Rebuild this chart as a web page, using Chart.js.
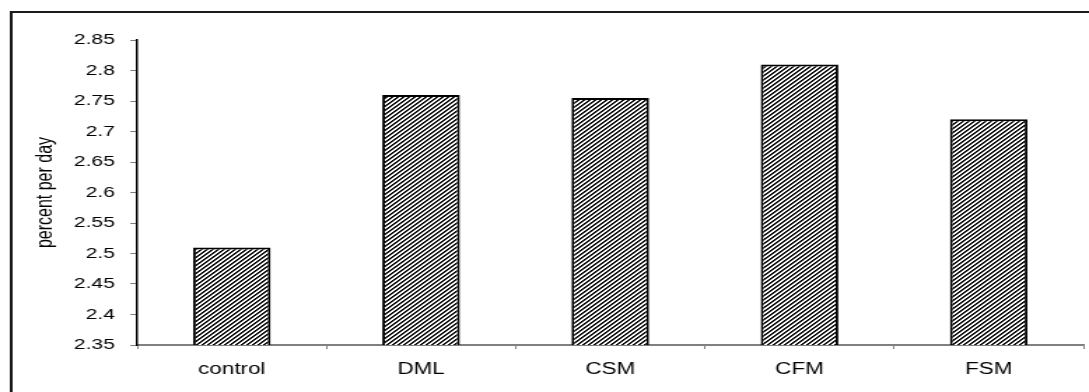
<!DOCTYPE html>
<html lang="en">
<head>
    <meta charset="UTF-8">
    <title>percent per day</title>
    <script src="https://cdn.jsdelivr.net/npm/chart.js"></script>
    <style>
        html, body { margin: 0; padding: 0; background: #fff; overflow: hidden; }
        /* the reference is a horizontally stretched picture, so draw narrow and stretch */
        #wrap {
            width: 778px;
            height: 392px;
            position: relative;
            transform: scaleX(1.3997);
            transform-origin: 0 0;
        }
    </style>
</head>
<body>
    <div id="wrap"><canvas id="myChart"></canvas></div>

    <script>
        // data
        const categories = ["control", "DML", "CSM", "CFM", "FSM"];
        const growthRates = [2.51, 2.76, 2.755, 2.81, 2.72];
        const yTickValues = [2.35, 2.4, 2.45, 2.5, 2.55, 2.6, 2.65, 2.7, 2.75, 2.8, 2.85];
        const yTitle = "percent per day";

        // diagonal hatch like the old spreadsheet fill
        function makeHatch() {
            const c = document.createElement("canvas");
            c.width = 4;
            c.height = 4;
            const g = c.getContext("2d");
            g.fillStyle = "#fff";
            g.fillRect(0, 0, 4, 4);
            for (let x = 0; x < 4; x++) {
                for (let y = 0; y < 4; y++) {
                    const k = (x + y) % 4;
                    if (k === 0 || k === 1) {
                        g.fillStyle = k === 0 ? "#000" : "#2a2a2a";
                        g.fillRect(x, y, 1, 1);
                    }
                }
            }
            return g.createPattern(c, "repeat");
        }

        // frame round the chart, open at right and bottom like the crop
        const framePlugin = {
            id: "frame",
            afterDraw(chart) {
                const ctx = chart.ctx;
                ctx.save();
                ctx.strokeStyle = "#1a1a1a";
                ctx.lineWidth = 2;
                ctx.beginPath();
                ctx.moveTo(8, 400);
                ctx.lineTo(8, 12);
                ctx.lineTo(800, 12);
                ctx.stroke();
                ctx.restore();
            }
        };

        const font = "'Liberation Sans', Arial, sans-serif";

        const ctx = document.getElementById("myChart").getContext("2d");
        const myChart = new Chart(ctx, {
            type: "bar",
            data: {
                labels: categories,
                datasets: [{
                    data: growthRates,
                    backgroundColor: makeHatch(),
                    borderColor: "#000",
                    borderWidth: 2,
                    borderSkipped: "bottom",
                    categoryPercentage: 1,
                    barPercentage: 0.41
                }]
            },
            options: {
                responsive: true,
                maintainAspectRatio: false,
                animation: false,
                devicePixelRatio: 1,
                layout: { padding: { left: 0, top: 40, right: 4, bottom: 12 } },
                plugins: {
                    legend: { display: false },
                    tooltip: { enabled: false }
                },
                scales: {
                    x: {
                        offset: true,
                        grid: {
                            offset: true,
                            drawOnChartArea: false,
                            tickLength: 4,
                            color: "#808080"
                        },
                        border: { color: "#808080", width: 2 },
                        ticks: {
                            color: "#000",
                            padding: 11,
                            font: { family: font, size: 16 }
                        },
                        afterFit(scale) { scale.height = 35; }
                    },
                    y: {
                        min: 2.35,
                        max: 2.85,
                        afterBuildTicks(scale) {
                            scale.ticks = yTickValues.map(v => ({ value: v }));
                        },
                        grid: {
                            drawOnChartArea: false,
                            tickLength: 5,
                            color: "#808080"
                        },
                        border: { color: "#000", width: 1.5 },
                        ticks: {
                            color: "#000",
                            padding: 11,
                            font: { family: font, size: 15 },
                            callback: (v) => String(Number(v.toFixed(2)))
                        },
                        title: {
                            display: true,
                            text: yTitle,
                            color: "#000",
                            padding: { top: 23, bottom: 0 },
                            font: { family: font, size: 16 }
                        },
                        afterFit(scale) { scale.width = 98; }
                    }
                }
            },
            plugins: [framePlugin]
        });
    </script>
</body>
</html>
